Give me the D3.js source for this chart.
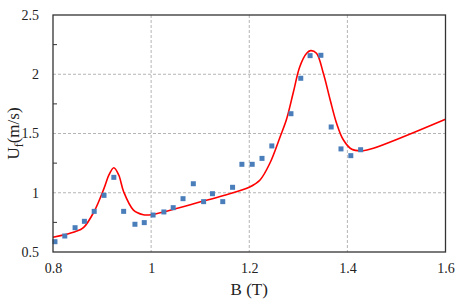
<!DOCTYPE html>
<html>
<head>
<meta charset="utf-8">
<script src="https://cdn.jsdelivr.net/npm/d3@7"></script>
<style>
  body { margin: 0; background: #fff; }
  svg text { font-family: 'Liberation Serif', 'DejaVu Serif', serif; fill: #222; }
</style>
</head>
<body>
<div id="chart"></div>
<script>
// measured points
var pointB = [0.804, 0.824, 0.845, 0.864, 0.884, 0.904, 0.924, 0.944, 0.967, 0.986,
              1.004, 1.026, 1.045, 1.065, 1.086, 1.107, 1.125, 1.146, 1.166, 1.185,
              1.206, 1.226, 1.246, 1.285, 1.305, 1.324, 1.346, 1.367, 1.387, 1.407, 1.427];
var pointU = [0.587, 0.635, 0.705, 0.759, 0.843, 0.978, 1.13, 0.843, 0.734, 0.748,
              0.812, 0.838, 0.874, 0.950, 1.076, 0.925, 0.992, 0.925, 1.046, 1.24,
              1.24, 1.29, 1.395, 1.667, 1.966, 2.157, 2.16, 1.555, 1.37, 1.313, 1.363];

// fitted curve
var curveB = [0.8, 0.845, 0.862, 0.884, 0.904, 0.914, 0.924, 0.934, 0.944, 0.964, 0.984, 1.0,
              1.107, 1.146, 1.2, 1.222, 1.242, 1.263, 1.276, 1.29, 1.303, 1.317, 1.325,
              1.337, 1.351, 1.365, 1.378, 1.392, 1.409, 1.432, 1.453, 1.6];
var curveU = [0.624, 0.671, 0.705, 0.843, 1.037, 1.15, 1.211, 1.15, 1.009, 0.854, 0.815, 0.815,
              0.93, 0.975, 1.046, 1.108, 1.249, 1.473, 1.62, 1.85, 2.064, 2.177, 2.199,
              2.177, 2.008, 1.783, 1.586, 1.445, 1.367, 1.355, 1.375, 1.62];

var xTicks = [0.8, 1, 1.2, 1.4, 1.6];
var yTicks = [0.5, 1, 1.5, 2, 2.5];
var yMinor = [0.75, 1.25, 1.75, 2.25];

(function () {
    var width = 457, height = 303;
    var pLeft = 53, pRight = 445.5, pTop = 15, pBottom = 252;
    var serif = "'Liberation Serif', 'DejaVu Serif', serif";

    var svg = d3.select('#chart').append('svg')
        .attr('width', width)
        .attr('height', height);

    var x = d3.scaleLinear().domain([0.8, 1.6]).range([pLeft, pRight]);
    var y = d3.scaleLinear().domain([0.5, 2.5]).range([pBottom, pTop]);

    // grid
    var grid = svg.append('g')
        .attr('stroke', '#b4b4b4')
        .attr('stroke-width', 1)
        .attr('stroke-dasharray', '3,2');
    xTicks.slice(1, -1).forEach(function (t) {
        grid.append('line')
            .attr('x1', x(t)).attr('x2', x(t))
            .attr('y1', pTop).attr('y2', pBottom);
    });
    yTicks.slice(1, -1).forEach(function (t) {
        grid.append('line')
            .attr('x1', pLeft).attr('x2', pRight)
            .attr('y1', y(t)).attr('y2', y(t));
    });

    // axes: labels only, ticks drawn separately
    var yAxis = d3.axisLeft(y).tickValues(yTicks).tickSize(0).tickPadding(14)
        .tickFormat(d3.format('~g'));
    var gy = svg.append('g').attr('transform', 'translate(' + pLeft + ',0)').call(yAxis);
    gy.attr('font-family', null).attr('font-size', null);
    gy.select('.domain').remove();
    gy.selectAll('text').style('font-family', serif).style('font-size', '14px').attr('fill', '#222');

    svg.append('g').selectAll('line').data(yMinor).enter().append('line')
        .attr('x1', pLeft).attr('x2', pLeft + 4)
        .attr('y1', function (d) { return y(d); })
        .attr('y2', function (d) { return y(d); })
        .attr('stroke', '#333').attr('stroke-width', 1);

    var xAxis = d3.axisBottom(x).tickValues(xTicks).tickSize(0).tickPadding(11)
        .tickFormat(d3.format('~g'));
    var gx = svg.append('g').attr('transform', 'translate(0,' + pBottom + ')').call(xAxis);
    gx.attr('font-family', null).attr('font-size', null);
    gx.select('.domain').remove();
    gx.selectAll('text').style('font-family', serif).style('font-size', '14px').attr('fill', '#222');

    // curve
    var curveData = curveB.map(function (b, i) { return [b, curveU[i]]; });
    var line = d3.line()
        .x(function (d) { return x(d[0]); })
        .y(function (d) { return y(d[1]); })
        .curve(d3.curveCatmullRom.alpha(0.5));
    svg.append('path')
        .datum(curveData)
        .attr('d', line)
        .attr('fill', 'none')
        .attr('stroke', '#ff0000')
        .attr('stroke-width', 1.6);

    // points
    var pts = pointB.map(function (b, i) { return [b, pointU[i]]; });
    svg.append('g').selectAll('rect').data(pts).enter().append('rect')
        .attr('x', function (d) { return x(d[0]) - 2.5; })
        .attr('y', function (d) { return y(d[1]) - 2.5; })
        .attr('width', 5).attr('height', 5)
        .attr('fill', '#4a7ebb');

    // frame
    svg.append('rect')
        .attr('x', pLeft).attr('y', pTop)
        .attr('width', pRight - pLeft).attr('height', pBottom - pTop)
        .attr('fill', 'none')
        .attr('stroke', '#333')
        .attr('stroke-width', 1.3);

    // axis titles
    svg.append('text')
        .attr('x', (pLeft + pRight) / 2).attr('y', 295)
        .attr('text-anchor', 'middle')
        .style('font-family', serif)
        .style('font-size', '17px')
        .text('B (T)');

    var yt = svg.append('text')
        .attr('transform', 'translate(19,' + ((pTop + pBottom) / 2) + ') rotate(-90)')
        .attr('text-anchor', 'middle')
        .style('font-family', serif)
        .style('font-size', '17px');
    yt.append('tspan').text('U');
    yt.append('tspan').attr('dy', 4).style('font-size', '12px').text('f');
    yt.append('tspan').attr('dy', -4).text('(m/s)');
})();
</script>
</body>
</html>
